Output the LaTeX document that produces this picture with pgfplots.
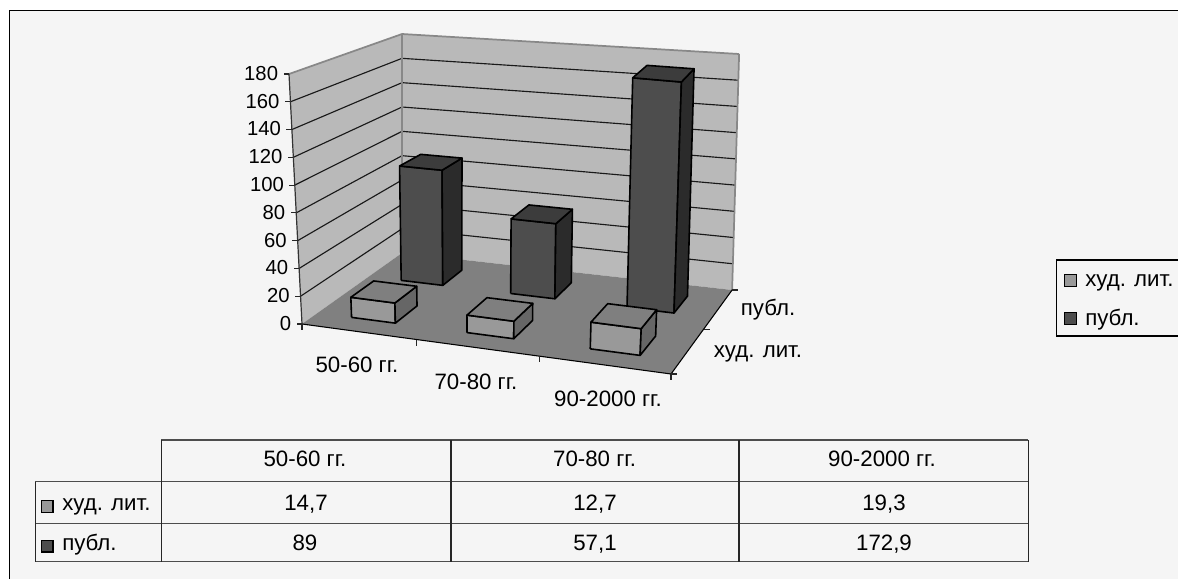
\documentclass[border=0pt]{standalone}
\usepackage{fontspec}
\setmainfont{Liberation Sans}
\usepackage{pgfplots}
\usepackage{pgfplotstable}
\pgfplotsset{compat=1.18}

\definecolor{chartbg}{HTML}{F5F5F5}
\definecolor{wallc}{HTML}{B9B9B9}
\definecolor{floorc}{HTML}{808080}
\definecolor{edgec}{HTML}{888888}
\definecolor{hudfront}{HTML}{999999}
\definecolor{hudside}{HTML}{666666}
\definecolor{hudtop}{HTML}{7F7F7F}
\definecolor{pubfront}{HTML}{4D4D4D}
\definecolor{pubside}{HTML}{2B2B2B}
\definecolor{pubtop}{HTML}{3C3C3C}

% values read from the data table of the chart
\pgfplotstableread{
cat hud publ
0   14.7 89
1   12.7 57.1
2   19.3 172.9
}\barvalues

% picture position of a point of the 3d box: X, Y in 0..1, Z is the value
\pgfmathdeclarefunction{chartu}{3}{\pgfmathparse{(302+305.3*#1+154.6*#2)/(1-0.095*#1+0.1357*#2)+(#3/180)*(-13+25.9*#1+13*#2-18.9*#1*#2)}}
\pgfmathdeclarefunction{chartv}{3}{\pgfmathparse{(324+14.47*#1-36.67*#2)/(1-0.095*#1+0.1357*#2)+(#3/180)*(-250-1.8*#1+31*#2-15.2*#1*#2)}}

\def\cornr#1,#2,#3\relax{%
  \pgfmathparse{chartu(#1,#2,#3)}\let\cu\pgfmathresult
  \pgfmathparse{chartv(#1,#2,#3)}\edef\plist{\plist (\cu,\pgfmathresult)}}
\newcommand\face[5]{%
  \def\plist{}\cornr#2\relax\cornr#3\relax\cornr#4\relax\cornr#5\relax\cornr#2\relax
  \edef\doface{\noexpand\addplot[#1] coordinates {\plist};}\doface}
\newcommand\trio[4]{%
  \def\plist{}\cornr#2\relax\cornr#3\relax\cornr#4\relax
  \edef\doface{\noexpand\addplot[#1] coordinates {\plist};}\doface}
\newcommand\seg[3]{%
  \def\plist{}\cornr#2\relax\cornr#3\relax
  \edef\doface{\noexpand\addplot[#1] coordinates {\plist};}\doface}

% one column: row in table, series number, column name, colours
\newcommand\drawbar[6]{%
  \pgfplotstablegetelem{#1}{#3}\of\barvalues
  \let\val\pgfplotsretval
  \pgfmathsetmacro\xa{(#1+0.5)/3-0.0645}
  \pgfmathsetmacro\xb{(#1+0.5)/3+0.0645}
  \pgfmathsetmacro\ya{(#2+0.5)/2-0.11}
  \pgfmathsetmacro\yb{(#2+0.5)/2+0.11}
  \face{fill=#4,draw=black,line width=1.2pt,line join=round}{\xa,\ya,0}{\xb,\ya,0}{\xb,\ya,\val}{\xa,\ya,\val}
  \face{fill=#5,draw=black,line width=1.2pt,line join=round}{\xb,\ya,0}{\xb,\yb,0}{\xb,\yb,\val}{\xb,\ya,\val}
  \face{fill=#6,draw=black,line width=1.2pt,line join=round}{\xa,\ya,\val}{\xb,\ya,\val}{\xb,\yb,\val}{\xa,\yb,\val}}

% short tick: from a point on the box, offset in pixels
\newcommand\boxtick[5]{%
  \pgfmathsetmacro\ta{chartu(#1,#2,#3)}
  \pgfmathsetmacro\tb{chartv(#1,#2,#3)}
  \pgfmathsetmacro\tc{\ta+#4}
  \pgfmathsetmacro\td{\tb+#5}
  \edef\doface{\noexpand\addplot[black!85,line width=0.8pt] coordinates {(\ta,\tb)(\tc,\td)};}\doface}

\newcommand\axlabel{\fontsize{16.7pt}{20pt}\selectfont}
\newcommand\ticklabel{\fontsize{15.2pt}{18pt}\selectfont}

\begin{document}
\begin{tikzpicture}
\begin{axis}[
  scale only axis,
  width=883.5pt, height=434.25pt,
  xmin=0, xmax=1178, ymin=0, ymax=579,
  y dir=reverse,
  hide axis,
  clip=true,
]
% chart area
\fill[white] (axis cs:0,0) rectangle (axis cs:1178,579);
\fill[chartbg] (axis cs:10,10.5) rectangle (axis cs:1178,579);
\draw[black,line width=1pt] (axis cs:9.7,579) -- (axis cs:9.7,10.2) -- (axis cs:1178,10.2);

% walls and floor
\face{fill=wallc,draw=none}{0,0,0}{0,1,0}{0,1,180}{0,0,180}
\face{fill=wallc,draw=none}{0,1,0}{1,1,0}{1,1,180}{0,1,180}
\face{fill=floorc,draw=none}{0,0,0}{1,0,0}{1,1,0}{0,1,0}

% grid lines
\pgfplotsforeachungrouped \z in {20,40,...,160}{%
  \trio{black!90,line width=0.85pt}{0,0,\z}{0,1,\z}{1,1,\z}
}
\trio{edgec,line width=1.3pt}{0,0,180}{0,1,180}{1,1,180}
\seg{edgec,line width=1.3pt}{0,1,0}{0,1,180}
\seg{edgec,line width=1.3pt}{1,1,0}{1,1,180}
\seg{black!80,line width=0.9pt}{0,0,0}{0,0,180}
\seg{black,line width=0.8pt}{0,0,0}{1,0,0}
\seg{black,line width=0.8pt}{1,0,0}{1,1,0}

% ticks of the value axis with their numbers
\pgfplotsforeachungrouped \z in {0,20,...,180}{%
  \boxtick{0}{0}{\z}{-5.5}{0}
  \pgfmathsetmacro\la{\ta-10.7}
  \pgfmathsetmacro\lb{\tb+6.4}
  \edef\donode{\noexpand\node[anchor=base east,inner sep=0pt,font=\noexpand\ticklabel] at (axis cs:\la,\lb) {\z};}\donode
}
% ticks on the floor edges
\boxtick{0}{0}{0}{0}{6}
\boxtick{0.3333}{0}{0}{0}{6}
\boxtick{0.6667}{0}{0}{0}{6}
\boxtick{1}{0}{0}{0}{6}
\boxtick{1}{0}{0}{6}{0}
\boxtick{1}{0.5}{0}{6}{0}
\boxtick{1}{1}{0}{6}{0}

% columns, back row first
\drawbar{0}{1}{publ}{pubfront}{pubside}{pubtop}
\drawbar{1}{1}{publ}{pubfront}{pubside}{pubtop}
\drawbar{2}{1}{publ}{pubfront}{pubside}{pubtop}
\drawbar{0}{0}{hud}{hudfront}{hudside}{hudtop}
\drawbar{1}{0}{hud}{hudfront}{hudside}{hudtop}
\drawbar{2}{0}{hud}{hudfront}{hudside}{hudtop}

% category and series names
\node[anchor=base,inner sep=0pt,font=\axlabel] at (axis cs:357,372.7) {50-60 гг.};
\node[anchor=base,inner sep=0pt,font=\axlabel] at (axis cs:476,389) {70-80 гг.};
\node[anchor=base,inner sep=0pt,font=\axlabel] at (axis cs:608,406.7) {90-2000 гг.};
\node[anchor=base,inner sep=0pt,font=\axlabel] at (axis cs:768,315) {публ.};
\node[anchor=base,inner sep=0pt,font=\axlabel] at (axis cs:758,357) {худ. лит.};

% data table below the chart
\draw[black!70,line width=1pt] (axis cs:161.3,440) -- (axis cs:1028.3,440);
\draw[black!70,line width=1pt] (axis cs:35.3,481.7) -- (axis cs:1028.3,481.7);
\draw[black!70,line width=1pt] (axis cs:35.3,523.7) -- (axis cs:1028.3,523.7);
\draw[black!70,line width=1pt] (axis cs:35.3,561.7) -- (axis cs:1028.3,561.7);
\draw[black!85,line width=0.8pt] (axis cs:35.3,481.7) -- (axis cs:35.3,561.7);
\draw[black!85,line width=0.8pt] (axis cs:161.3,440) -- (axis cs:161.3,561.7);
\draw[black!85,line width=0.8pt] (axis cs:451,440) -- (axis cs:451,561.7);
\draw[black!85,line width=0.8pt] (axis cs:739,440) -- (axis cs:739,561.7);
\draw[black!85,line width=0.8pt] (axis cs:1028.3,440) -- (axis cs:1028.3,561.7);
\node[anchor=base,inner sep=0pt,font=\axlabel] at (axis cs:305,466.7) {50-60 гг.};
\node[anchor=base,inner sep=0pt,font=\axlabel] at (axis cs:594.6,466.7) {70-80 гг.};
\node[anchor=base,inner sep=0pt,font=\axlabel] at (axis cs:882,466.7) {90-2000 гг.};
\node[anchor=base,inner sep=0pt,font=\axlabel] at (axis cs:306,510.7) {14,7};
\node[anchor=base,inner sep=0pt,font=\axlabel] at (axis cs:595,510.7) {12,7};
\node[anchor=base,inner sep=0pt,font=\axlabel] at (axis cs:884,510.7) {19,3};
\node[anchor=base,inner sep=0pt,font=\axlabel] at (axis cs:305,550.7) {89};
\node[anchor=base,inner sep=0pt,font=\axlabel] at (axis cs:595,550.7) {57,1};
\node[anchor=base,inner sep=0pt,font=\axlabel] at (axis cs:884,550.7) {172,9};
\draw[fill=hudfront,draw=black,line width=1pt] (axis cs:41.5,500.5) rectangle (axis cs:53,512.5);
\draw[fill=pubfront,draw=black,line width=1pt] (axis cs:41.5,540.5) rectangle (axis cs:53,552);
\node[anchor=base west,inner sep=0pt,font=\axlabel] at (axis cs:62,510.7) {худ. лит.};
\node[anchor=base west,inner sep=0pt,font=\axlabel] at (axis cs:62,550.7) {публ.};

% legend, its right side runs off the picture
\draw[black,line width=0.8pt] (axis cs:1190,260) -- (axis cs:1056.5,260) -- (axis cs:1056.5,336) -- (axis cs:1190,336);
\draw[fill=hudfront,draw=black,line width=1pt] (axis cs:1064.5,274.5) rectangle (axis cs:1076.5,286.5);
\draw[fill=pubfront,draw=black,line width=1pt] (axis cs:1064.5,312.5) rectangle (axis cs:1076.5,324.5);
\node[anchor=base west,inner sep=0pt,font=\axlabel] at (axis cs:1085,286.7) {худ. лит.};
\node[anchor=base west,inner sep=0pt,font=\axlabel] at (axis cs:1085,325) {публ.};
\end{axis}
\end{tikzpicture}
\end{document}
